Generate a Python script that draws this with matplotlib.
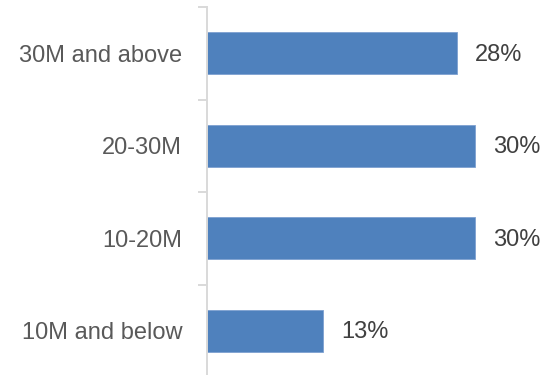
import matplotlib
matplotlib.use("Agg")
import matplotlib.pyplot as plt
from matplotlib.ticker import FixedLocator, NullFormatter

categories = ["10M and below", "10-20M", "20-30M", "30M and above"]
shares = [13, 30, 30, 28]
value_labels = ["13%", "30%", "30%", "28%"]

plt.rcParams["font.family"] = ["Liberation Sans", "DejaVu Sans"]

W, H = 547, 375
fig = plt.figure(figsize=(W / 100, H / 100), dpi=100)
ax = fig.add_axes([207 / W, (H - 377) / H, 312.6 / W, 370 / H])

bar_color = "#4F81BD"
cat_color = "#595959"
value_color = "#404040"
axis_color = "#D9D9D9"

pos = list(range(len(categories)))
bars = ax.barh(pos, shares, height=0.455, color=bar_color,
               edgecolor="#7EA1D0", linewidth=0.6)

ax.set_xlim(0, 35)
ax.set_ylim(-0.5, len(categories) - 0.5)

for b, lab in zip(bars, value_labels):
    ax.annotate(lab, (b.get_width(), b.get_y() + b.get_height() / 2),
                xytext=(13, -1), textcoords="offset points",
                ha="left", va="center", fontsize=17, color=value_color)

for s in ("top", "right", "bottom"):
    ax.spines[s].set_visible(False)
ax.spines["left"].set_color(axis_color)
ax.spines["left"].set_linewidth(1.4)

ax.xaxis.set_visible(False)
# category boundaries get tick marks, category centres get labels
ax.yaxis.set_major_locator(FixedLocator([p - 0.5 for p in pos] + [pos[-1] + 0.5]))
ax.yaxis.set_major_formatter(NullFormatter())
ax.yaxis.set_minor_locator(FixedLocator(pos))
ax.set_yticklabels(categories, minor=True)
ax.tick_params(axis="y", which="major", length=6.5, width=1.4, color=axis_color)
ax.tick_params(axis="y", which="minor", length=0, pad=18, labelsize=17,
               labelcolor=cat_color)

fig.savefig("out.png", dpi=100)
